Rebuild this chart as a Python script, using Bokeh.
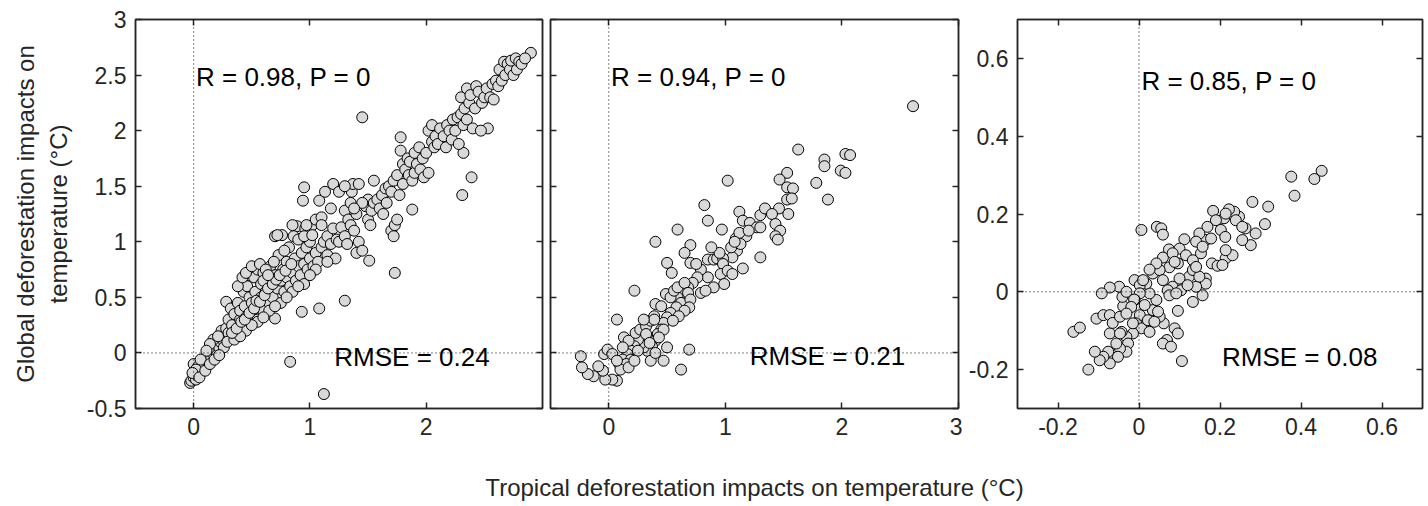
from bokeh.plotting import figure
from bokeh.layouts import row, column
from bokeh.models import Range1d, FixedTicker, LinearAxis, CustomJSTickFormatter, Span
from bokeh.embed import file_html
from bokeh.resources import INLINE
from bokeh.core.properties import value

# ---------------- data ----------------
x1 = [1.45, 2.90, 0.83, 1.12, 1.73, 2.31, 2.39, 1.30, 1.08, 0.93, 1.51, 0.95, 0.94, 1.88, 1.78, 2.32, 2.53, 0.89, 0.70, 0.28, 1.40,
      -0.03, -0.02, 0.00, 0.02, 0.03, 0.05, 0.00, 0.04, 0.07, 0.08, 0.10, 0.09, 0.12, 0.13, 0.15, 0.16, 0.18, 0.20, 0.19, 0.22,
      0.23, 0.25, 0.24, 0.27, 0.28, 0.30, 0.17, 0.14, 0.21, 0.26, 0.29, 0.11, 0.06, 0.02, -0.01, 0.05, 0.10, 0.14, 0.18, 0.22,
      0.30, 0.32, 0.33, 0.35, 0.36, 0.38, 0.40, 0.40, 0.42, 0.43, 0.44, 0.45, 0.46, 0.47, 0.48, 0.50, 0.50, 0.52, 0.53, 0.55,
      0.55, 0.56, 0.58, 0.58, 0.60, 0.60, 0.62, 0.63, 0.65, 0.66, 0.67, 0.68, 0.70, 0.70, 0.72, 0.73, 0.75, 0.76, 0.77, 0.78,
      0.80, 0.80, 0.82, 0.83, 0.85, 0.86, 0.87, 0.88, 0.90, 0.90, 0.92, 0.93, 0.95, 0.96, 0.97, 0.98, 1.00, 1.00, 1.02, 1.03,
      1.05, 1.05, 1.07, 1.08, 1.10, 1.10, 1.12, 1.13, 1.15, 1.15, 1.18, 1.20, 1.20, 1.22, 1.23, 1.25, 1.27, 1.30, 1.30, 1.32,
      1.33, 1.35, 1.36, 1.37, 1.38, 1.40, 1.42, 1.42, 1.45, 1.48, 1.50, 1.50, 1.52, 1.53, 1.55, 1.55, 1.58, 1.60, 1.62, 1.63,
      1.65, 1.66, 1.68, 1.70, 1.72, 1.70, 1.72, 1.73, 1.75, 1.75, 1.77, 1.78, 1.80, 1.80, 1.82, 1.84, 1.85, 1.86, 1.88, 1.90,
      1.90, 1.92, 1.94, 1.95, 1.97, 1.98, 2.00, 2.02, 2.02, 2.05, 2.05, 2.07, 2.08, 2.10, 2.12, 2.15, 2.17, 2.18, 2.20, 2.22,
      2.23, 2.25, 2.27, 2.28, 2.30, 2.30, 2.32, 2.33, 2.35, 2.35, 2.37, 2.38, 2.40, 2.42, 2.43, 2.45, 2.47, 2.48, 2.50, 2.52,
      2.55, 2.57, 2.58, 2.60, 2.62, 2.63, 2.65, 2.67, 2.68, 2.70, 2.72, 2.73, 2.75, 2.77, 2.78, 2.80, 2.82, 2.85,
      0.38, 0.42, 0.45, 0.50, 0.57, 0.60, 0.62, 0.72, 0.85, 0.97, 0.95, 1.02, 1.10, 1.18, 1.25, 1.30, 1.35, 1.45, 1.38,
      0.35, 0.45, 0.55, 0.65, 0.75, 0.85, 0.95, 1.05, 1.15, 0.40, 0.50, 0.60, 0.70, 0.80, 0.90, 1.00,
      0.33, 0.37, 0.41, 0.44, 0.48, 0.52, 0.54, 0.57, 0.61, 0.64, 0.68, 0.71, 0.74, 0.79, 0.84, 0.64, 0.69, 0.78]
y1 = [2.12, 2.70, -0.08, -0.37, 0.72, 1.42, 1.58, 0.47, 0.40, 0.37, 0.83, 1.49, 1.37, 1.29, 1.94, 1.80, 2.02, 1.14, 0.31, 0.46, 0.90,
      -0.27, -0.25, -0.22, -0.24, -0.20, -0.18, -0.10, -0.12, -0.15, -0.10, -0.05, -0.12, -0.08, -0.03, -0.05, 0.00, 0.03, -0.02, 0.08, 0.05,
      0.10, 0.12, 0.20, 0.16, 0.22, 0.18, 0.12, 0.08, 0.15, 0.05, 0.10, 0.02, -0.06, -0.15, -0.18, -0.22, -0.16, -0.10, -0.06, -0.02,
      0.30, 0.40, 0.25, 0.35, 0.20, 0.45, 0.30, 0.38, 0.25, 0.55, 0.42, 0.32, 0.60, 0.70, 0.50, 0.35, 0.45, 0.68, 0.55, 0.30,
      0.75, 0.42, 0.50, 0.62, 0.38, 0.72, 0.55, 0.65, 0.45, 0.78, 0.60, 0.50, 0.70, 1.05, 0.58, 0.88, 0.65, 1.06, 0.75, 0.55,
      0.82, 0.68, 0.95, 0.60, 0.72, 1.05, 0.85, 0.65, 1.02, 0.78, 0.70, 0.90, 0.80, 1.12, 0.95, 0.75, 0.85, 1.00, 1.15, 0.78,
      0.90, 1.20, 0.82, 1.37, 0.95, 1.22, 1.00, 1.45, 0.88, 1.05, 0.98, 1.52, 1.12, 0.85, 1.02, 1.00, 1.13, 1.28, 1.05, 0.98,
      1.20, 1.15, 1.45, 1.52, 1.10, 1.25, 1.52, 1.00, 0.92, 1.32, 1.20, 1.38, 1.15, 1.28, 1.35, 1.55, 1.38, 1.30, 1.42, 1.25,
      1.48, 1.35, 1.50, 1.45, 1.55, 1.10, 1.05, 1.15, 1.20, 1.60, 1.42, 1.82, 1.52, 1.70, 1.65, 1.75, 1.60, 1.72, 1.55, 1.80,
      1.62, 1.70, 1.85, 1.65, 1.75, 1.58, 1.80, 2.00, 1.62, 1.90, 2.05, 1.85, 1.95, 1.88, 2.02, 1.95, 1.85, 2.05, 2.00, 1.92,
      2.10, 2.00, 2.12, 1.88, 2.15, 2.30, 2.05, 2.20, 2.38, 2.10, 2.25, 2.32, 2.02, 2.20, 2.40, 2.35, 2.00, 2.25, 2.30, 2.38,
      2.30, 2.42, 2.28, 2.45, 2.40, 2.55, 2.45, 2.62, 2.50, 2.60, 2.55, 2.63, 2.50, 2.65, 2.55, 2.62, 2.60, 2.65,
      0.60, 0.68, 0.72, 0.78, 0.80, 0.65, 0.75, 1.06, 1.15, 1.15, 1.05, 1.06, 1.15, 1.30, 1.45, 1.50, 1.35, 1.35, 1.30,
      0.12, 0.20, 0.28, 0.38, 0.45, 0.55, 0.62, 0.75, 0.82, 0.15, 0.25, 0.32, 0.42, 0.50, 0.60, 0.70,
      0.18, 0.22, 0.28, 0.30, 0.36, 0.40, 0.47, 0.46, 0.52, 0.58, 0.62, 0.66, 0.70, 0.74, 0.80, 0.70, 0.82, 0.92]

x2 = [2.61, 1.625, 2.03, 2.07, 1.85, 1.85, 1.99, 2.03, 1.78, 1.88, 1.53, 1.465, 1.53, 1.58, 1.53, 1.57, 1.54, 1.46, 1.02, 0.82,
      0.85, 0.59, 0.40, 0.97, 1.12, 1.15, 1.21, 1.27, 1.30, 1.34, 1.40, 1.30, 1.43, 1.47, 1.43, 1.45, 1.30, 1.09, 1.13, 1.18,
      1.10, 1.13, 1.15, 1.06, 0.70, 0.65, 0.70, 0.50, 0.54, 0.22,
      0.85, 0.90, 0.93, 0.98, 0.98, 0.96, 1.02, 1.06, 0.99, 0.90, 0.85, 0.79, 0.76, 0.79, 0.83, 0.72, 0.68, 0.63, 0.59, 0.62,
      0.58, 0.53, 0.50, 0.47, 0.45, 0.42, 0.40, 0.37, 0.33, 0.30, 0.27, 0.25, 0.22, 0.19, 0.16, 0.12, 0.09, 0.13, 0.17, 0.23,
      0.27, 0.32, 0.36, 0.39, 0.40, 0.45, 0.49, 0.53, 0.56, 0.59, 0.65, 0.68, 0.70, 0.69, 0.65, 0.60, 0.55, 0.47, 0.43, 0.39,
      0.30, 0.32, 0.35, 0.25, 0.19, 0.15, 0.10, 0.07, 0.03, -0.03, -0.05, -0.09, -0.13, -0.18, -0.23, -0.24, -0.04, -0.01, 0.03, 0.07,
      0.12, 0.17, 0.22, 0.07, 0.47, 0.62, 0.69, 0.50, 0.36, 0.40,
      1.05, 1.12, 1.08, 0.95, 1.20, 0.75, 0.88]
y2 = [2.22, 1.83, 1.79, 1.78, 1.74, 1.68, 1.64, 1.62, 1.53, 1.38, 1.62, 1.56, 1.49, 1.48, 1.38, 1.39, 1.25, 1.30, 1.55, 1.33,
      1.19, 1.11, 1.00, 1.11, 1.27, 1.19, 1.17, 1.13, 1.24, 1.30, 1.25, 1.13, 1.16, 1.10, 1.05, 1.02, 0.86, 1.03, 1.04, 1.05,
      0.92, 0.98, 0.76, 0.86, 0.97, 0.90, 0.81, 0.81, 0.72, 0.56,
      0.84, 0.84, 0.85, 0.85, 0.80, 0.71, 0.74, 0.71, 0.62, 0.59, 0.68, 0.75, 0.68, 0.54, 0.56, 0.63, 0.59, 0.54, 0.50, 0.45,
      0.41, 0.36, 0.32, 0.27, 0.21, 0.17, 0.11, 0.06, 0.02, 0.05, 0.08, 0.12, 0.06, 0.02, -0.01, -0.06, -0.10, 0.14, 0.11, 0.18,
      0.21, 0.24, 0.29, 0.33, 0.44, 0.42, 0.53, 0.50, 0.56, 0.59, 0.63, 0.54, 0.48, 0.41, 0.38, 0.33, 0.29, 0.21, 0.14, 0.30,
      0.30, 0.17, 0.09, 0.02, -0.06, -0.10, -0.15, -0.25, -0.24, -0.24, -0.16, -0.12, -0.21, -0.19, -0.13, -0.03, -0.01, 0.03, -0.01, -0.07,
      0.05, -0.13, -0.07, 0.30, -0.07, -0.15, 0.03, 0.05, -0.07, 0.00,
      0.95, 1.08, 1.00, 0.90, 1.10, 0.80, 0.95]

x3 = [0.451, 0.433, 0.376, 0.384, 0.319, 0.280, 0.311, 0.288, 0.276, 0.255, 0.263, 0.247, 0.235, 0.222, 0.210, 0.183, 0.190, 0.169,
      0.165, 0.149, 0.141, 0.112, 0.100, 0.116, 0.074, 0.059, 0.075, 0.096, 0.133, 0.153, 0.180, 0.194, 0.214, 0.231, 0.214, 0.206,
      0.165, 0.165, 0.157, 0.141, 0.133, 0.124, 0.133, 0.100, 0.083, 0.104, 0.096, 0.088, 0.096, 0.106, 0.069, 0.059, 0.079, 0.061,
      0.051, 0.034, 0.043, 0.026, 0.018, 0.034, 0.051, 0.059, 0.071, 0.006, 0.044, 0.055, 0.059, -0.011, 0.002, 0.002, -0.011, 0.014,
      0.002, -0.007, 0.006, 0.026, -0.015, -0.031, -0.043, -0.027, -0.031, -0.047, -0.056, -0.072, -0.052, -0.072, -0.076, -0.088,
      -0.097, -0.109, -0.125, -0.162, -0.146, -0.105, -0.088, -0.072, -0.065, -0.047, -0.039, -0.041, -0.049, -0.072, -0.092, -0.031,
      -0.012, -0.019, -0.031, -0.015, -0.047, 0.022, 0.038, 0.047, 0.075, 0.092, 0.120, 0.149, 0.141, 0.157, 0.178, 0.202, 0.213,
      0.239, 0.214, 0.255, 0.083, 0.088, 0.043, 0.026, 0.010]
y3 = [0.311, 0.290, 0.296, 0.247, 0.219, 0.231, 0.174, 0.150, 0.120, 0.133, 0.163, 0.193, 0.206, 0.212, 0.189, 0.208, 0.184, 0.167,
      0.133, 0.150, 0.129, 0.135, 0.111, 0.094, 0.109, 0.088, 0.063, 0.073, 0.081, 0.099, 0.073, 0.067, 0.086, 0.094, 0.107, 0.069,
      0.034, 0.021, -0.009, 0.013, -0.026, 0.039, 0.056, 0.034, 0.013, 0.004, -0.049, -0.094, -0.107, -0.178, -0.124, -0.133, -0.141, -0.081,
      -0.064, -0.047, -0.021, -0.004, 0.021, 0.047, 0.056, 0.030, 0.004, 0.159, 0.167, 0.163, 0.147, 0.030, 0.017, -0.004, -0.021, -0.034,
      -0.060, -0.081, -0.094, -0.103, -0.107, -0.116, -0.103, -0.133, -0.154, -0.146, -0.133, -0.107, -0.167, -0.184, -0.154, -0.167,
      -0.176, -0.154, -0.200, -0.103, -0.092, -0.069, -0.060, -0.060, -0.080, -0.064, -0.037, -0.013, 0.013, 0.011, -0.004, 0.000,
      -0.020, -0.039, -0.056, -0.081, -0.107, -0.073, -0.077, -0.051, -0.009, -0.004, 0.017, 0.039, 0.064, 0.116, 0.137, 0.159, 0.141,
      0.184, 0.201, 0.167, 0.099, 0.077, 0.073, 0.057, 0.030]

xr1, yr1 = (-0.5, 3.0), (-0.5, 3.0)
xr2, yr2 = (-0.5, 3.0), (-0.5, 3.0)
xr3, yr3 = (-0.3, 0.7), (-0.3, 0.7)
xt1 = [0, 1, 2]
xt2 = [0, 1, 2, 3]
yt12 = [-0.5, 0, 0.5, 1, 1.5, 2, 2.5, 3]
t3 = [-0.2, 0, 0.2, 0.4, 0.6]
r_texts = ["R = 0.98, P = 0", "R = 0.94, P = 0", "R = 0.85, P = 0"]
rmse_texts = ["RMSE = 0.24", "RMSE = 0.21", "RMSE = 0.08"]
r_pos = [(0.02, 2.48), (0.02, 2.48), (0.006, 0.542)]
rmse_pos = [(1.21, -0.04), (1.21, -0.03), (0.205, -0.167)]
ylabel = "Global deforestation impacts on\ntemperature (°C)"
xlabel = "Tropical deforestation impacts on temperature (°C)"

FONT = "Liberation Sans"
AX = "#262626"
fmt_num = CustomJSTickFormatter(code="return tick.toString();")
fmt_none = CustomJSTickFormatter(code="return '';")


def style_axis(ax, ticks, labels):
    ax.ticker = FixedTicker(ticks=ticks)
    ax.formatter = fmt_num if labels else fmt_none
    ax.major_tick_in = 6
    ax.major_tick_out = 0
    ax.minor_tick_line_color = None
    ax.axis_line_color = AX
    ax.axis_line_width = 1.5
    ax.major_tick_line_color = AX
    ax.major_tick_line_width = 1.5
    ax.major_label_text_font = FONT
    ax.major_label_text_font_size = "23px" if labels else "1px"
    ax.major_label_text_color = AX
    ax.major_label_standoff = 9 if labels else 0
    ax.axis_label_text_font = FONT
    ax.axis_label_text_font_size = "24px"
    ax.axis_label_text_font_style = "normal"
    ax.axis_label_text_color = AX


def make_panel(xs, ys, xr, yr, xt, yt, ylab_on, bl, fw, br, idx):
    p = figure(frame_width=fw, frame_height=389, min_border_left=bl, min_border_right=br,
               min_border_top=19, min_border_bottom=50,
               x_range=Range1d(*xr), y_range=Range1d(*yr),
               output_backend="svg", toolbar_location=None)
    p.xgrid.visible = False
    p.ygrid.visible = False
    p.outline_line_color = AX
    p.outline_line_width = 1.5
    p.background_fill_color = "white"
    p.border_fill_color = "white"
    bottom = p.below[0]
    left = p.left[0]
    style_axis(bottom, xt, True)
    style_axis(left, yt, ylab_on)
    top = LinearAxis()
    style_axis(top, xt, False)
    p.add_layout(top, "above")
    right = LinearAxis()
    style_axis(right, yt, False)
    p.add_layout(right, "right")
    p.add_layout(Span(location=0, dimension="height", line_color="black", line_width=1, line_dash="1 3"))
    p.add_layout(Span(location=0, dimension="width", line_color="black", line_width=1, line_dash="1 3"))
    p.scatter(xs, ys, marker="circle", size=11, fill_color="#d9d9d9", line_color="black", line_width=1)
    rx, ry = r_pos[idx]
    p.text([rx], [ry], text=[r_texts[idx]], text_font=value(FONT), text_font_size="26px",
           text_color="black", text_align="left", text_baseline="middle")
    mx, my = rmse_pos[idx]
    p.text([mx], [my], text=[rmse_texts[idx]], text_font=value(FONT), text_font_size="26px",
           text_color="black", text_align="left", text_baseline="middle")
    return p, bottom, left


p1, b1, l1 = make_panel(x1, y1, xr1, yr1, xt1, yt12, True, 135, 407, 4, 0)
l1.axis_label = ylabel
l1.axis_label_standoff = 12
p2, b2, l2 = make_panel(x2, y2, xr2, yr2, xt2, yt12, False, 4, 408, 4, 1)
p3, b3, l3 = make_panel(x3, y3, xr3, yr3, t3, t3, True, 55, 405, 4, 2)

# strip below the panels that carries the shared x-axis title (centred under panel 2)
lab = figure(width=1420, height=46, x_range=Range1d(0, 1420), y_range=Range1d(0, 46),
             min_border=0, output_backend="svg", toolbar_location=None)
lab.axis.visible = False
lab.grid.visible = False
lab.outline_line_color = None
lab.text([754], [17], text=[xlabel], text_font=value(FONT), text_font_size="24px",
         text_color=AX, text_align="center", text_baseline="middle")

layout = column(row(p1, p2, p3), lab)
open("out.html", "w").write(file_html(layout, INLINE))
